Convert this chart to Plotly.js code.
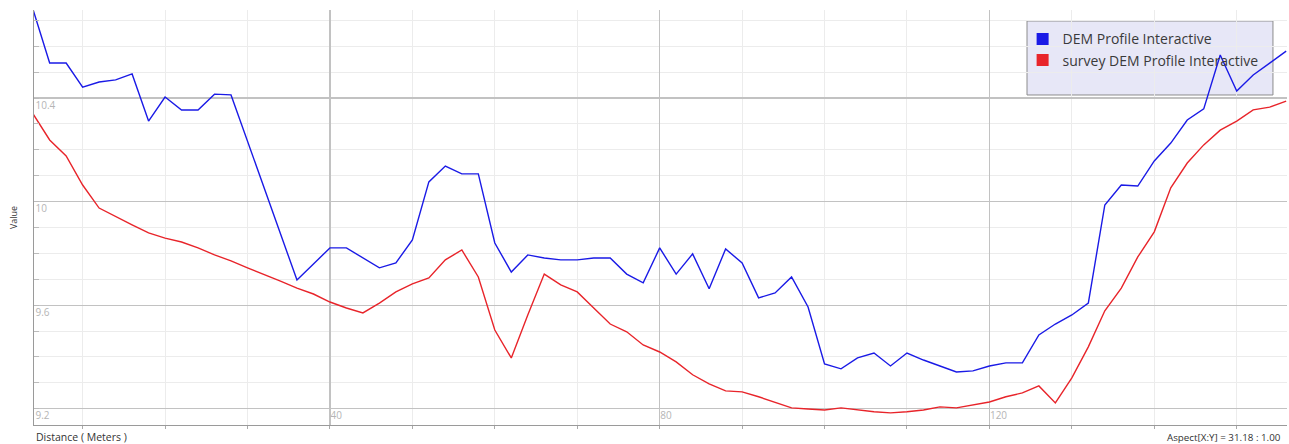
<!DOCTYPE html>
<html>
<head>
<meta charset="utf-8">
<script src="https://cdn.plot.ly/plotly-3.0.1.min.js"></script>
<style>
html,body{margin:0;padding:0;background:#fff;}
#chart{width:1289px;height:444px;}
</style>
</head>
<body>
<div id="chart"></div>
<script>
const distance = [4,6,8,10,12,14,16,18,20,22,24,26,28,30,32,34,36,38,40,42,44,46,48,50,52,54,56,58,60,62,64,66,68,70,72,74,76,78,80,82,84,86,88,90,92,94,96,98,100,102,104,106,108,110,112,114,116,118,120,122,124,126,128,130,132,134,136,138,140,142,144,146,148,150,152,154,156];
const demProfile = [10.74,10.535,10.535,10.442,10.462,10.47,10.493,10.311,10.404,10.354,10.354,10.415,10.412,10.234,10.056,9.875,9.697,9.759,9.821,9.821,9.782,9.744,9.763,9.852,10.076,10.137,10.107,10.107,9.84,9.728,9.794,9.782,9.775,9.775,9.782,9.782,9.72,9.686,9.821,9.72,9.798,9.663,9.817,9.763,9.628,9.647,9.709,9.593,9.373,9.354,9.396,9.415,9.365,9.415,9.388,9.365,9.342,9.346,9.365,9.377,9.377,9.485,9.527,9.562,9.608,9.987,10.064,10.06,10.157,10.226,10.315,10.358,10.566,10.427,10.489,10.535,10.581];
const surveyProfile = [10.338,10.238,10.176,10.064,9.975,9.941,9.91,9.879,9.859,9.844,9.821,9.794,9.771,9.744,9.72,9.693,9.666,9.643,9.612,9.589,9.57,9.608,9.651,9.682,9.705,9.775,9.813,9.709,9.504,9.396,9.562,9.72,9.678,9.651,9.589,9.527,9.497,9.446,9.419,9.381,9.331,9.296,9.269,9.265,9.246,9.226,9.203,9.199,9.195,9.203,9.195,9.188,9.184,9.188,9.195,9.207,9.203,9.215,9.226,9.246,9.261,9.288,9.222,9.319,9.439,9.578,9.666,9.786,9.883,10.053,10.149,10.219,10.276,10.311,10.354,10.365,10.388];
const seriesNames = ["DEM Profile Interactive", "survey DEM Profile Interactive"];
const seriesColors = ["#1a1ae6", "#e8242a"];
const yTickVals = [9.2, 9.6, 10, 10.4];
const yTickText = ["9.2", "9.6", "10", "10.4"];
const xTickVals = [40, 80, 120];
const xTickText = ["40", "80", "120"];

const traces = [
  {x: distance, y: demProfile, mode: "lines", name: seriesNames[0], showlegend: false,
   line: {color: seriesColors[0], width: 1.4}},
  {x: distance, y: surveyProfile, mode: "lines", name: seriesNames[1], showlegend: false,
   line: {color: seriesColors[1], width: 1.4}},
  {x: [null], y: [null], mode: "markers", name: seriesNames[0], showlegend: true,
   marker: {symbol: "square", size: 12, color: seriesColors[0]}},
  {x: [null], y: [null], mode: "markers", name: seriesNames[1], showlegend: true,
   marker: {symbol: "square", size: 12, color: seriesColors[1]}}
];

const layout = {
  width: 1289, height: 444,
  margin: {l: 34, r: 2, t: 10, b: 19, pad: 0},
  paper_bgcolor: "#ffffff", plot_bgcolor: "#ffffff",
  font: {family: "Open Sans, Noto Sans, sans-serif", size: 10, color: "#333"},
  showlegend: true,
  legend: {x: 0.789, y: 0.968, xanchor: "left", yanchor: "top",
    bgcolor: "rgba(0,0,0,0)", borderwidth: 0,
    font: {family: "Open Sans, Noto Sans, sans-serif", size: 14, color: "#3a3a3a"},
    tracegroupgap: 0},
  xaxis: {
    range: [4.1, 156.1], showline: true, linecolor: "#9a9a9a", linewidth: 1,
    tickvals: xTickVals, ticktext: xTickText, ticklabelposition: "inside right",
    ticklabeloverflow: "allow",
    tickfont: {size: 10, color: "#b5b5b5"}, ticks: "",
    showgrid: true, gridcolor: "#c2c2c2", gridwidth: 1.2, zeroline: false,
    minor: {dtick: 10, tick0: 0, showgrid: true, gridcolor: "#ececec", gridwidth: 1, ticks: "outside", ticklen: 3, tickcolor: "#aaa"}
  },
  yaxis: {
    range: [9.137, 10.74], showline: true, linecolor: "#9a9a9a", linewidth: 1,
    tickvals: yTickVals, ticktext: yTickText, ticklabelposition: "inside bottom",
    ticklabeloverflow: "allow",
    tickfont: {size: 10, color: "#b5b5b5"}, ticks: "",
    showgrid: true, gridcolor: "#c2c2c2", gridwidth: 1.2, zeroline: false,
    minor: {dtick: 0.1, tick0: 9.2, showgrid: true, gridcolor: "#ececec", gridwidth: 1, ticks: "inside", ticklen: 5, tickcolor: "#bbb"},
    title: {text: "Value", standoff: 16, font: {size: 9, color: "#333"}}
  },
  shapes: [{type: "rect", xref: "paper", yref: "paper", x0: 0.7925, x1: 0.9888, y0: 0.7952, y1: 0.9735,
    fillcolor: "#e7e7f7", line: {color: "#8c8c8c", width: 1}, layer: "below"}],
  annotations: [
    {text: "Distance ( Meters )", xref: "paper", yref: "paper", x: 0, y: -0.029, xanchor: "left", yanchor: "middle",
     showarrow: false, font: {size: 10.5, color: "#333"}},
    {text: "Aspect[X:Y] = 31.18 : 1.00", xref: "paper", yref: "paper", x: 0.9968, y: -0.029, xanchor: "right", yanchor: "middle",
     showarrow: false, font: {size: 9.8, color: "#333"}}
  ]
};

Plotly.newPlot("chart", traces, layout, {displayModeBar: false, staticPlot: true});
</script>
</body>
</html>
